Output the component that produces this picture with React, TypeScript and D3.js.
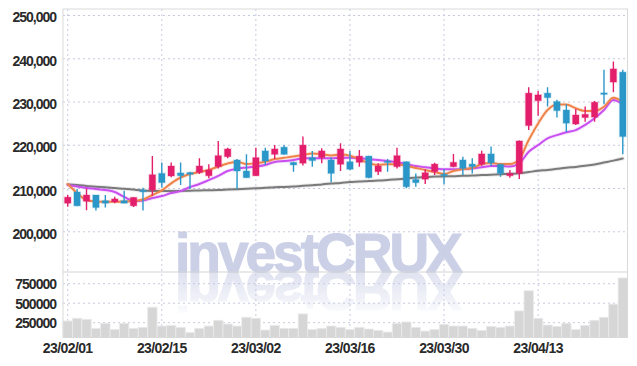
import React from 'react';
import * as d3 from 'd3';

const dates = [
  '2023-02-01','2023-02-02','2023-02-03','2023-02-06','2023-02-07','2023-02-08','2023-02-09','2023-02-10','2023-02-13','2023-02-14',
  '2023-02-15','2023-02-16','2023-02-17','2023-02-20','2023-02-21','2023-02-22','2023-02-23','2023-02-24','2023-02-27','2023-02-28',
  '2023-03-02','2023-03-03','2023-03-06','2023-03-07','2023-03-08','2023-03-09','2023-03-10','2023-03-13','2023-03-14','2023-03-15',
  '2023-03-16','2023-03-17','2023-03-20','2023-03-21','2023-03-22','2023-03-23','2023-03-24','2023-03-27','2023-03-28','2023-03-29',
  '2023-03-30','2023-03-31','2023-04-03','2023-04-04','2023-04-05','2023-04-06','2023-04-07','2023-04-10','2023-04-11','2023-04-12',
  '2023-04-13','2023-04-14','2023-04-17','2023-04-18','2023-04-19','2023-04-20','2023-04-21','2023-04-24','2023-04-25','2023-04-26',
];

const openP = [
  206600,209200,207050,208500,207200,206900,207200,206000,209600,209650,
  213500,212900,213600,213700,213700,212950,215050,217350,216600,214050,
  212950,218700,217900,219550,216050,215850,217150,217150,216600,215600,
  216200,216050,217500,213900,216350,215050,216200,212100,212150,213900,
  213300,215050,216600,215650,215600,218000,215600,212950,213500,224550,
  230300,232050,230100,228150,224900,226400,226500,232100,234600,236900,
];
const highP = [
  208500,209900,210000,208500,208500,208100,209500,208000,210200,217500,
  216000,216000,216000,213900,217000,215600,221000,219450,216800,217900,
  219450,219450,220050,220050,216200,222000,218700,219300,217150,220450,
  218700,218900,217600,215850,216800,219450,216300,213500,214450,215950,
  214500,218000,217350,217000,218750,219700,215700,214300,221100,233400,
  232550,233400,230500,229500,228400,228950,230250,237430,239350,237430,
];
const lowP = [
  205800,205900,205000,204900,205600,206600,206600,205700,204900,208300,
  210200,212600,210800,209900,213350,212350,214650,217000,209900,212500,
  212900,215450,216800,217800,213900,215300,215050,215850,211450,214050,
  214300,215050,212400,213100,213900,214650,210050,210400,211050,213100,
  211000,214900,213100,213500,215200,215200,212700,212500,212200,223550,
  226850,228950,226400,223000,224700,225450,225450,229500,232250,217900,
];
const closeP = [
  208000,206000,208500,205600,206600,207600,206600,207950,209300,213200,
  211350,215200,212950,213300,215200,214300,217600,219150,214050,212500,
  217150,216350,219150,217900,215450,220050,216450,218700,213500,219150,
  214450,217500,212500,215200,216050,217600,210400,211350,213650,215650,
  212950,216050,214650,215050,218000,215950,213500,213500,221000,232050,
  231650,231000,228000,225100,227000,227150,229950,231950,237650,222000,
];
const volume = [
  272000,306850,293900,177650,242250,164700,242250,177650,190550,449000,
  207350,216400,190550,126000,177650,207350,281000,233200,207350,319750,
  306850,155700,216400,177650,177650,362400,164700,177650,207350,190550,
  164700,190550,168600,151800,129850,242250,259050,190550,142750,164700,
  229300,207350,207350,177650,151800,203500,190550,207350,401150,659550,
  306850,220300,203500,242250,164700,216400,281000,319750,487750,823650,
];
const maShort = [
  211050,208950,207350,207000,206950,206950,207000,207100,207450,208500,
  209550,211200,212550,213350,213800,214300,215050,215800,216200,215650,
  215850,216200,216800,217100,217400,217750,218100,217950,217650,217850,
  217600,216800,215850,215450,215600,215600,215200,214750,214300,213800,
  213350,214050,214500,214750,215650,215900,215650,215650,216800,221200,
  225050,228150,229450,229450,228550,227900,227900,228900,231000,230050,
];
const maMid = [
  210800,210450,210100,209900,209650,209200,208050,207100,207250,207800,
  208250,208950,209400,210350,211050,211950,212900,214050,214600,214850,
  215100,215450,216150,216350,216600,217000,217000,217000,217000,217100,
  217100,217000,216800,216600,216350,216050,215650,215200,214900,214650,
  214450,214450,214500,214650,214900,215200,215200,215100,215850,218500,
  220050,221600,222350,223000,223500,224700,226250,228150,230450,229450,
];
const maLong = [
  210950,210800,210600,210400,210300,210100,209950,209750,209550,209450,
  209400,209400,209450,209500,209550,209600,209650,209750,209850,209950,
  210050,210150,210300,210350,210450,210650,210750,210950,211150,211300,
  211500,211600,211750,211850,211950,212150,212300,212550,212650,212750,
  212800,212850,212950,213000,213100,213200,213300,213400,213500,213800,
  214100,214300,214550,214800,215000,215250,215550,216000,216450,216950,
];

const priceTicks = [200000, 210000, 220000, 230000, 240000, 250000];
const volumeTicks = [250000, 500000, 750000];
const dateTickIdx = [0, 10, 20, 30, 40, 50];
const watermark = 'investCRUX';

const UP = '#e31e6b';
const DOWN = '#2b97c9';
const FONT = '"Liberation Sans", Arial, sans-serif';

export default function App() {
  const W = 637, H = 366;
  const left = 63, right = 627.5, top = 9, priceBottom = 272, volBottom = 337.5;
  const n = dates.length;
  const x = d3.scaleLinear().domain([-0.5, n - 0.5]).range([left, right]);
  const y = d3.scaleLinear().domain([190700, 251500]).range([priceBottom, top]);
  const yv = d3.scaleLinear().domain([60000, 900000]).range([volBottom, priceBottom]);
  const parse = d3.timeParse('%Y-%m-%d');
  const fmtDate = d3.timeFormat('%y/%m/%d');
  const fmtPrice = d3.format(',');
  const line = d3.line<number>().x((_, i) => x(i)).y(d => y(d)).curve(d3.curveMonotoneX);
  const step = x(1) - x(0);
  const grid = '#c6cadf';

  return (
    <svg width={W} height={H} style={{ position: 'absolute', left: 0, top: 0, background: '#fff' }} fontFamily={FONT}>
      <defs>
        <clipPath id="pclip"><rect x={left} y={top} width={right - left} height={priceBottom - top} /></clipPath>
        <linearGradient id="refl" gradientUnits="userSpaceOnUse" x1="0" y1={priceBottom} x2="0" y2={priceBottom - 46}>
          <stop offset="0" stopColor="#d6d9eb" stopOpacity="0.95" />
          <stop offset="1" stopColor="#ffffff" stopOpacity="0" />
        </linearGradient>
        <mask id="reflMask" maskUnits="userSpaceOnUse" x="0" y="0" width={W} height={H}>
          <rect x={0} y={priceBottom - 60} width={W} height={60} fill="url(#refl)" />
        </mask>
      </defs>

      {/* watermark */}
      <text id="wm" x={175} y={priceBottom} fontSize={55} fontWeight="bold" letterSpacing={-3} fill="#cbd0e7"
        stroke="#cbd0e7" strokeWidth={1.2}>{watermark}</text>
      <g transform={`translate(0, ${priceBottom * 2}) scale(1,-1)`} opacity={0.75}>
        <g mask="url(#reflMask)">
          <use href="#wm" />
        </g>
      </g>

      {/* grid */}
      {priceTicks.map(t => (
        <line key={'pg' + t} x1={left} x2={right} y1={y(t)} y2={y(t)} stroke={grid} strokeDasharray="2,3" />
      ))}
      {volumeTicks.map(t => (
        <line key={'vg' + t} x1={left} x2={right} y1={yv(t)} y2={yv(t)} stroke={grid} strokeDasharray="2,3" />
      ))}
      {dateTickIdx.map(i => (
        <line key={'dg' + i} x1={x(i)} x2={x(i)} y1={top} y2={volBottom} stroke={grid} strokeDasharray="2,3" />
      ))}

      {/* volume */}
      {volume.map((v, i) => (
        <rect key={'v' + i} x={x(i) - step / 2} width={step} y={yv(v)} height={volBottom - yv(v)}
          fill="#d6d6d6" stroke="#ebebeb" strokeWidth={0.8} />
      ))}

      {/* MA lines */}
      <g clipPath="url(#pclip)" fill="none" strokeLinejoin="round" strokeLinecap="round">
        <path d={line(maLong) || ''} stroke="#7f7f7f" strokeWidth={4} opacity={0.15} />
        <path d={line(maLong) || ''} stroke="#7a7a7a" strokeWidth={2} />
        <path d={line(maMid) || ''} stroke="#c94ff0" strokeWidth={4} opacity={0.15} />
        <path d={line(maMid) || ''} stroke="#c94ff0" strokeWidth={2} />
        <path d={line(maShort) || ''} stroke="#f0834a" strokeWidth={4} opacity={0.15} />
        <path d={line(maShort) || ''} stroke="#f0834a" strokeWidth={2} />
      </g>

      {/* candles */}
      <g clipPath="url(#pclip)">
        {dates.map((_, i) => {
          const o = openP[i], c = closeP[i], h = highP[i], l = lowP[i];
          const col = c >= o ? UP : DOWN;
          const yt = y(Math.max(o, c)), yb = y(Math.min(o, c));
          return (
            <g key={'c' + i}>
              <line x1={x(i)} x2={x(i)} y1={y(h)} y2={y(l)} stroke={col} strokeWidth={1.4} />
              <rect x={x(i) - 3.2} width={6.4} y={yt} height={Math.max(1.5, yb - yt)} fill={col}
                stroke={col} strokeOpacity={0.25} strokeWidth={1.5} />
            </g>
          );
        })}
      </g>

      {/* frame */}
      <rect x={left} y={top} width={right - left} height={volBottom - top} fill="none" stroke="#d9d9d9" strokeWidth={1} />
      <line x1={left} x2={right} y1={priceBottom} y2={priceBottom} stroke="#d3d3d3" strokeWidth={1.2} />

      {/* labels */}
      {priceTicks.map(t => (
        <text key={'pt' + t} x={56} y={y(t) + 7} textAnchor="end" fontSize={14} fontWeight="bold" letterSpacing={-1}
          fill="#2a2a2a">{fmtPrice(t)}</text>
      ))}
      {volumeTicks.map(t => (
        <text key={'vt' + t} x={56} y={yv(t) + 5.5} textAnchor="end" fontSize={14} fontWeight="bold" letterSpacing={-1}
          fill="#2a2a2a">{String(t)}</text>
      ))}
      {dateTickIdx.map(i => (
        <text key={'dt' + i} x={x(i)} y={353} textAnchor="middle" fontSize={14} fontWeight="bold" letterSpacing={-0.6}
          fill="#2a2a2a">{fmtDate(parse(dates[i]) as Date)}</text>
      ))}
    </svg>
  );
}
